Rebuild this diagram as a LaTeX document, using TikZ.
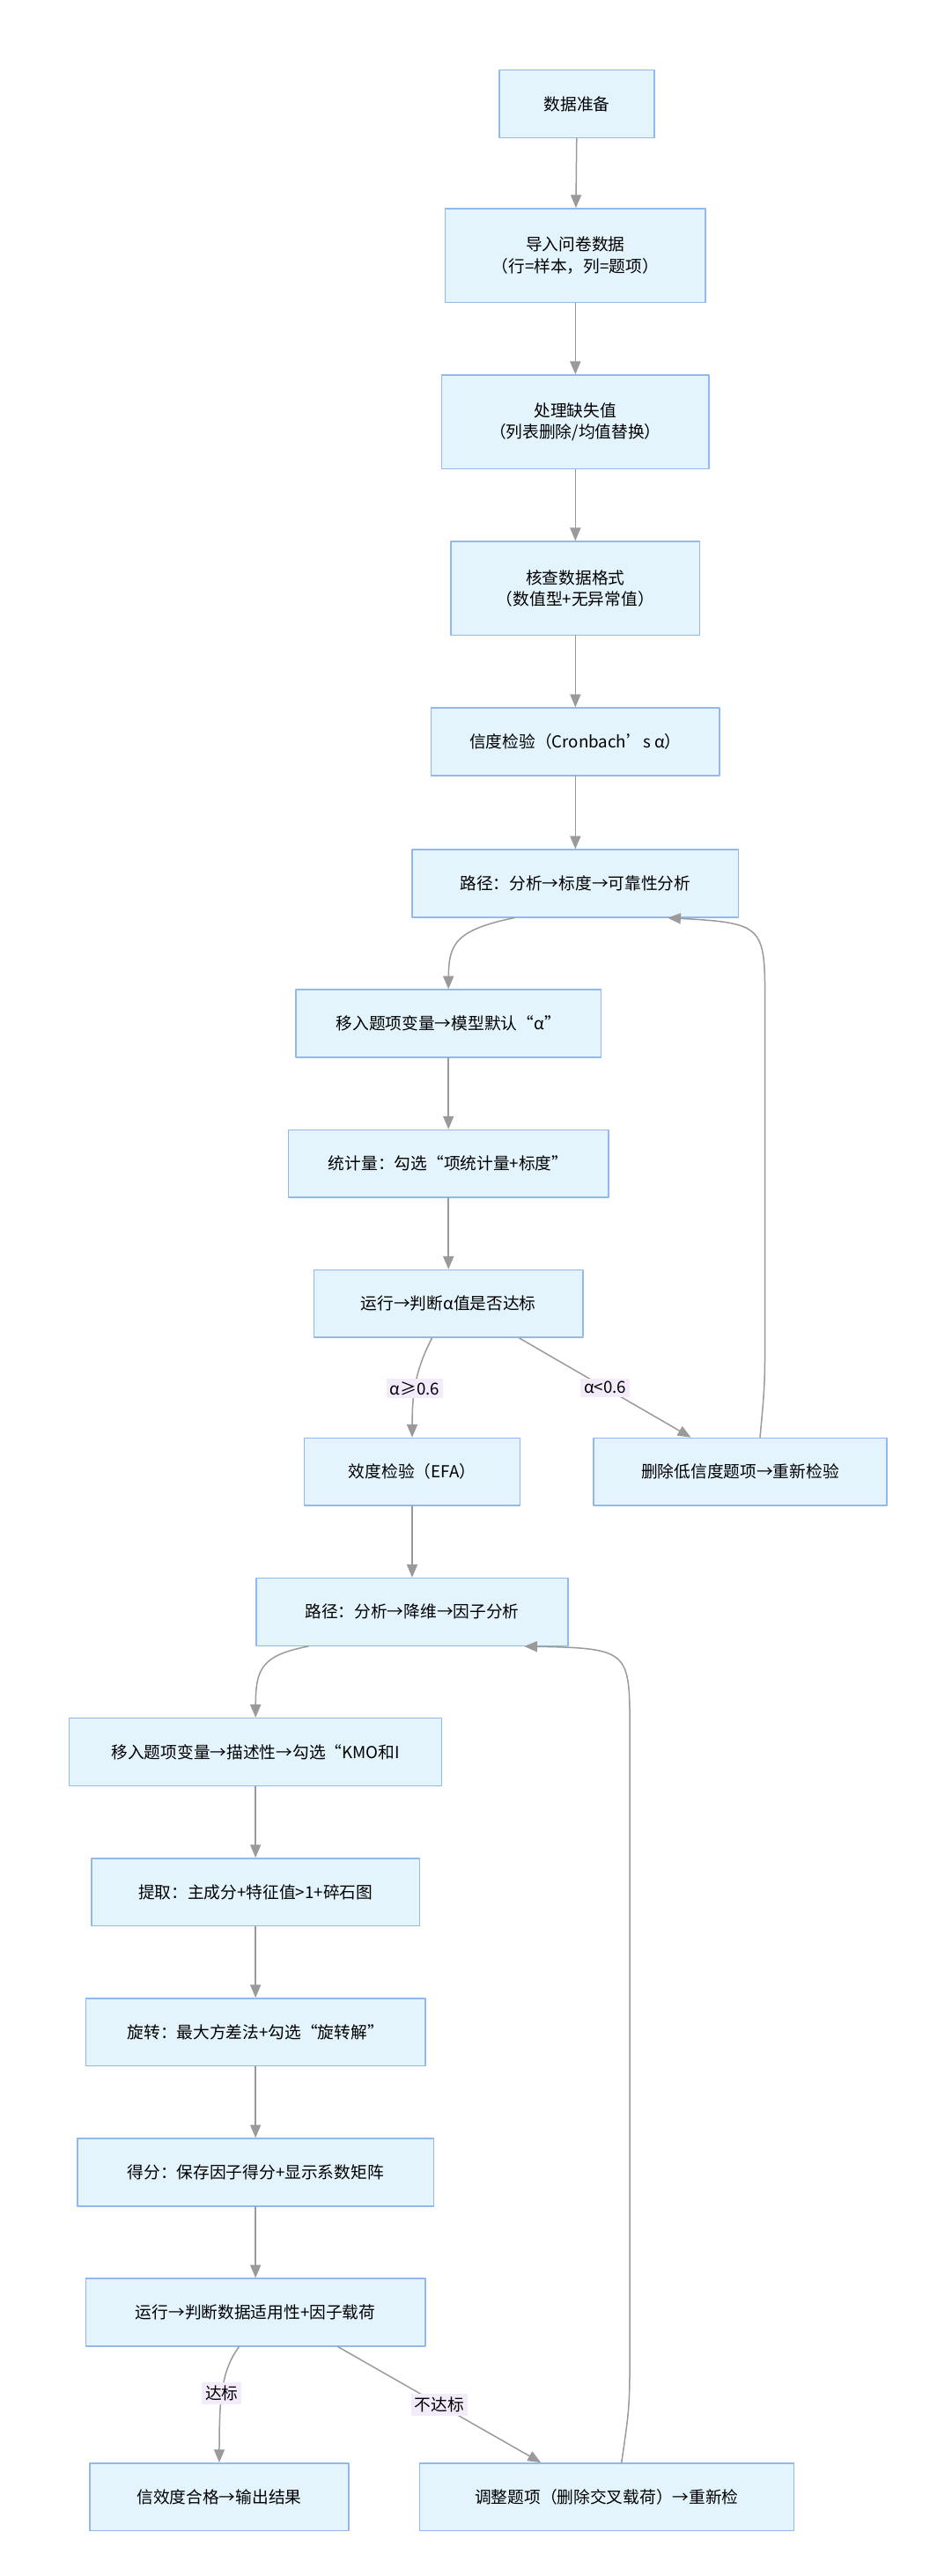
\documentclass[tikz,border=0pt]{standalone}
\usepackage{fontspec}
\setmainfont{Noto Sans CJK SC}
\usepackage{tikz}
\usetikzlibrary{arrows}
\definecolor{boxfill}{HTML}{E4F4FD}
\definecolor{boxline}{HTML}{92B9EE}
\definecolor{edgegray}{HTML}{9A9A9A}
\definecolor{lblfill}{HTML}{F3EAFA}
\tikzset{
  stepbox/.style={draw=boxline,fill=boxfill,line width=0.8pt,minimum height=41pt,inner sep=0pt,font=\fontsize{10}{13}\selectfont,align=center},
  flow/.style={->,draw=edgegray,line width=0.8pt},
  cond/.style={fill=lblfill,inner sep=2pt,font=\fontsize{10}{12}\selectfont}
}
\begin{document}
\begin{tikzpicture}[line cap=round,line join=round,>=triangle 45,x=1pt,y=-1pt]
            \useasboundingbox (0,0) rectangle (577,1563);
            \node[stepbox,minimum width=94pt] (prep) at (350,63) {数据准备};
            \node[stepbox,minimum width=158pt,minimum height=57pt] (load) at (349,155) {导入问卷数据\\（行=样本，列=题项）};
            \node[stepbox,minimum width=162pt,minimum height=57pt] (miss) at (349,256) {处理缺失值\\（列表删除/均值替换）};
            \node[stepbox,minimum width=151pt,minimum height=57pt] (fmt) at (349,357) {核查数据格式\\（数值型+无异常值）};
            \node[stepbox,minimum width=175pt] (rel) at (349,450) {信度检验（Cronbach's α）};
            \node[stepbox,minimum width=198pt] (path1) at (349,536) {路径：分析→标度→可靠性分析};
            \node[stepbox,minimum width=185pt] (move1) at (272,621) {移入题项变量→模型默认“α”};
            \node[stepbox,minimum width=194pt] (stat) at (272,706) {统计量：勾选“项统计量+标度”};
            \node[stepbox,minimum width=163pt] (run1) at (272,791) {运行→判断α值是否达标};
            \node[stepbox,minimum width=131pt] (efa) at (250,893) {效度检验（EFA）};
            \node[stepbox,minimum width=178pt] (dellow) at (449,893) {删除低信度题项→重新检验};
            \node[stepbox,minimum width=189pt] (path2) at (250,978) {路径：分析→降维→因子分析};
            \node[stepbox,minimum width=226pt] (move2) at (155,1063) {移入题项变量→描述性→勾选“KMO和I};
            \node[stepbox,minimum width=199pt] (extr) at (155,1148) {提取：主成分+特征值>1+碎石图};
            \node[stepbox,minimum width=206pt] (rot) at (155,1233) {旋转：最大方差法+勾选“旋转解”};
            \node[stepbox,minimum width=216pt] (score) at (155,1318) {得分：保存因子得分+显示系数矩阵};
            \node[stepbox,minimum width=206pt] (run2) at (155,1403) {运行→判断数据适用性+因子载荷};
            \node[stepbox,minimum width=157pt] (ok) at (133,1515) {信效度合格→输出结果};
            \node[stepbox,minimum width=227pt] (adj) at (368,1515) {调整题项（删除交叉载荷）→重新检};
            \draw[flow] (prep) -- (load);
            \draw[flow] (load) -- (miss);
            \draw[flow] (miss) -- (fmt);
            \draw[flow] (fmt) -- (rel);
            \draw[flow] (rel) -- (path1);
            \draw[flow] ([xshift=-37pt]path1.south) .. controls (272,565) and (272,575) .. (move1.north);
            \draw[flow] (move1) -- (stat);
            \draw[flow] (stat) -- (run1);
            \draw[flow] ([xshift=-10pt]run1.south) .. controls (250,835) and (250,850) .. node[cond] {α≥0.6} (efa.north);
            \draw[flow] ([xshift=43pt]run1.south) -- node[cond] {α<0.6} ([xshift=-30pt]dellow.north);
            \draw[flow] ([xshift=12pt]dellow.north) .. controls (464,840) .. (464,800) -- (464,610) .. controls (464,560) .. ([xshift=56pt]path1.south);
            \draw[flow] (efa) -- (path2);
            \draw[flow] ([xshift=-63pt]path2.south) .. controls (155,1005) and (155,1015) .. (move2.north);
            \draw[flow] (move2) -- (extr);
            \draw[flow] (extr) -- (rot);
            \draw[flow] (rot) -- (score);
            \draw[flow] (score) -- (run2);
            \draw[flow] ([xshift=-10pt]run2.south) .. controls (133,1440) and (133,1460) .. node[cond] {达标} (ok.north);
            \draw[flow] ([xshift=50pt]run2.south) -- node[cond] {不达标} ([xshift=-40pt]adj.north);
            \draw[flow] ([xshift=9pt]adj.north) .. controls (382,1460) .. (382,1420) -- (382,1050) .. controls (382,1000) .. ([xshift=68pt]path2.south);
\end{tikzpicture}
\end{document}
